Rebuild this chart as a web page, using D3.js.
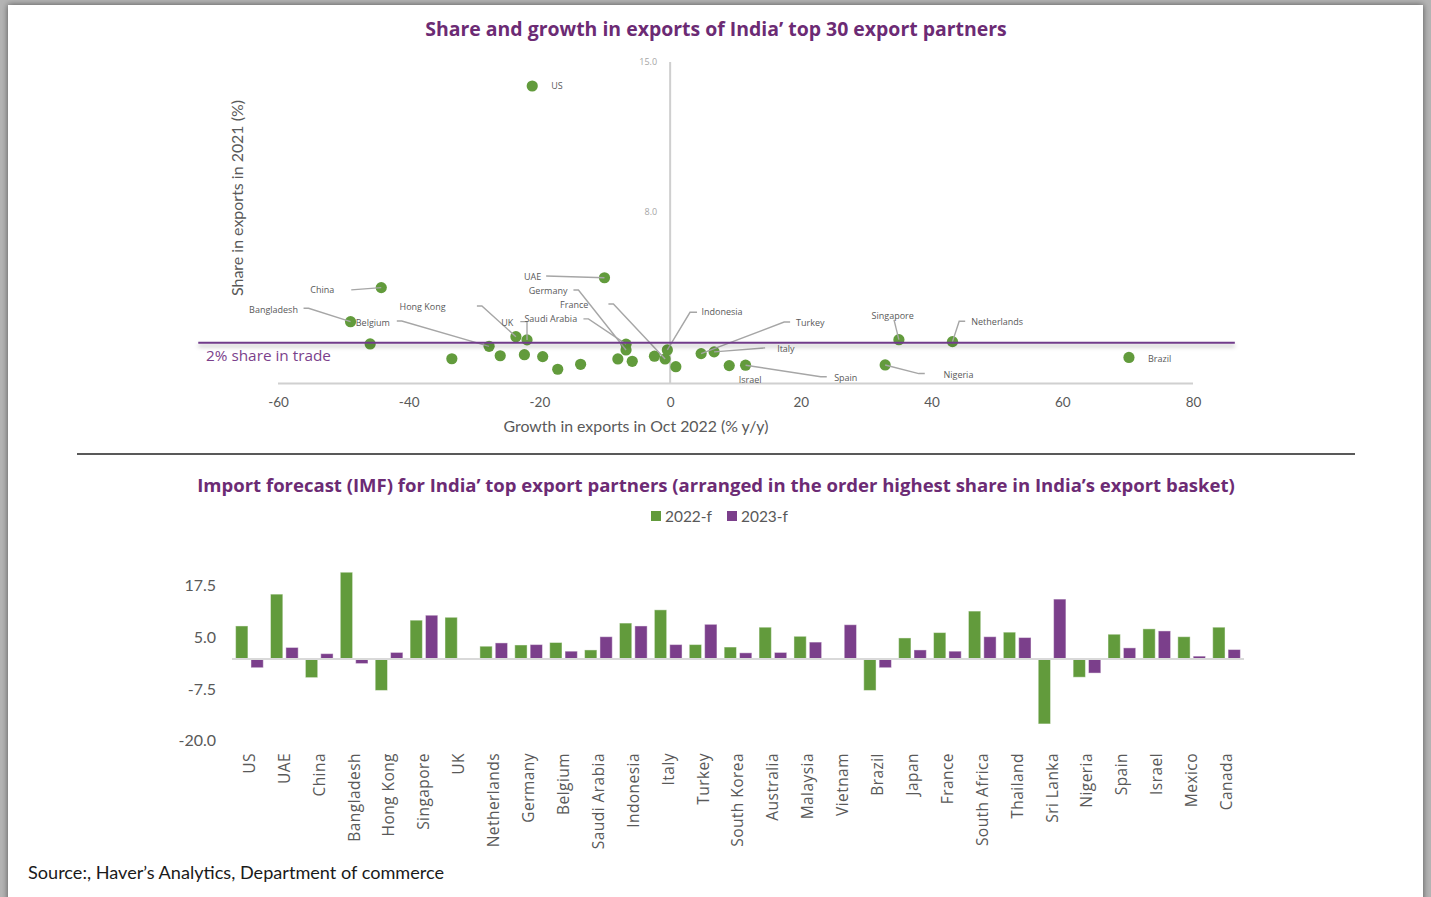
<!DOCTYPE html>
<html>
<head>
<meta charset="utf-8">
<script src="https://cdn.jsdelivr.net/npm/d3@7/dist/d3.min.js"></script>
<style>
  html, body { margin: 0; padding: 0; width: 1431px; height: 897px; overflow: hidden; background: #fff; }
  svg { display: block; }
</style>
</head>
<body>
<svg id="chart" width="1431" height="897"></svg>
<script>
// ---------------- DATA ----------------
// Scatter: share and growth of India's top 30 export partners
const scatterNames  = ["US","UAE","China","Bangladesh","","Belgium","Hong Kong","UK","Saudi Arabia","Germany",
                       "France","Indonesia","Turkey","Italy","Israel","Spain","Nigeria","Singapore","Netherlands","Brazil",
                       "","","","","","","","","",""];
const scatterGrowth = [-21.1,-10.05,-44.2,-48.9,-45.9,-27.7,-23.6,-21.9,-6.75,-6.75,
                       -0.77,-0.43,4.74,6.73,9.04,11.54,32.9,35.0,43.2,70.2,
                       -33.4,-26.0,-22.3,-19.5,-17.2,-13.7,-8.0,-5.8,-2.4,0.87];
const scatterShare  = [13.88,4.93,4.47,2.88,1.84,1.73,2.18,2.03,1.83,1.56,
                       1.14,1.56,1.39,1.47,0.83,0.85,0.86,2.04,1.95,1.21,
                       1.15,1.29,1.34,1.25,0.66,0.89,1.14,1.03,1.27,0.78];
const scatterXTicks = [-60,-40,-20,0,20,40,60,80];
const scatterYTicks = [8, 15];
const shareThreshold = 1.9;       // "2% share in trade" reference line
const thresholdSpan = [-72.2, 86.4];

// Bars: IMF import forecast
const categories = ["US","UAE","China","Bangladesh","Hong Kong","Singapore","UK","Netherlands","Germany","Belgium",
                    "Saudi Arabia","Indonesia","Italy","Turkey","South Korea","Australia","Malaysia","Vietnam","Brazil","Japan",
                    "France","South Africa","Thailand","Sri Lanka","Nigeria","Spain","Israel","Mexico","Canada"];
const forecast2022 = [8.0,15.7,-4.5,21.0,-7.6,9.4,10.1,3.1,3.4,4.0,
                      2.2,8.7,11.9,3.5,2.9,7.7,5.5,0,-7.6,5.1,
                      6.4,11.6,6.5,-15.7,-4.4,6.0,7.3,5.4,7.7];
const forecast2023 = [-2.1,2.8,1.3,-1.1,1.6,10.6,0,3.9,3.5,1.9,
                      5.4,8.0,3.5,8.4,1.5,1.6,4.1,8.3,-2.1,2.2,
                      1.9,5.4,5.2,14.5,-3.4,2.7,6.8,0.7,2.3];
const seriesNames = ["2022-f","2023-f"];
const barTicks = [-20, -7.5, 5, 17.5];

// ---------------- STYLE / LAYOUT ----------------
const GREEN = "#629b3c", PURPLE = "#7b3f8b", TITLE = "#6c2b74", TXT = "#595959";
const FONT = "Lato, 'Open Sans', sans-serif";
const TITLEFONT = "'Open Sans', Inter, sans-serif";
// label offsets in px relative to the point: [dx, dy, anchor, leaderDx, leaderDy, elbow]
const labelLayout = {
  "US":          [19, 0, "start", null],
  "UAE":         [-63.3, -1.7, "end", -58.3, -1.7, 0],
  "China":       [-47, 2.3, "end", -30, 2.3, 0],
  "Bangladesh":  [-52.6, -12, "end", -47, -13.4, 5],
  "Belgium":     [-133.3, -23.6, "start", -92.3, -25.3, 5],
  "Hong Kong":   [-116.4, -30, "start", -39, -30.7, 5],
  "UK":          [-25.7, -17.7, "start", -6.7, -18.3, 6.7],
  "Saudi Arabia":[-101.6, -25.3, "start", -42.6, -25.3, 5],
  "Germany":     [-97.2, -59, "start", -52.6, -60, 5],
  "France":      [-105, -54.3, "start", -56.7, -55, 5],
  "Indonesia":   [34.2, -38.1, "start", 29.7, -37.7, 7],
  "Turkey":      [95, -31.6, "start", 89, -31.6, 6],
  "Italy":       [63, -3.2, "start", 51, -4, 0],
  "Israel":      [20.9, 13.9, "middle", null],
  "Spain":       [88.6, 12.2, "start", 81.2, 11.6, 6],
  "Nigeria":     [58.3, 9.5, "start", 39.6, 8.6, 6],
  "Singapore":   [-6.2, -24.3, "middle", -4.9, -19.8, 0],
  "Netherlands": [18.8, -19.7, "start", 12.7, -20.3, 6],
  "Brazil":      [19, 0.7, "start", null]
};

const svg = d3.select("#chart");
const defs = svg.append("defs");
const fs = defs.append("filter").attr("id","frameShadow").attr("x","-5%").attr("y","-5%").attr("width","110%").attr("height","110%");
fs.append("feDropShadow").attr("dx",0).attr("dy",0).attr("stdDeviation",3).attr("flood-color","#000").attr("flood-opacity",0.55);
const ls = defs.append("filter").attr("id","lineShadow").attr("filterUnits","userSpaceOnUse")
  .attr("x",0).attr("y",0).attr("width",1431).attr("height",897);
ls.append("feDropShadow").attr("dx",0).attr("dy",3).attr("stdDeviation",2).attr("flood-color","#000").attr("flood-opacity",0.3);

// frame
svg.append("rect").attr("width",1431).attr("height",897).attr("fill","#b4b4b4");
svg.append("rect").attr("x",8).attr("y",5).attr("width",1415).attr("height",910).attr("fill","#fff").attr("filter","url(#frameShadow)");

function fitText(sel, target) {
  const node = sel.node();
  const w = node.getComputedTextLength();
  const f = parseFloat(sel.attr("font-size"));
  if (w > 0) sel.attr("font-size", (f * target / w).toFixed(2));
}
const plain = d => String(d);
const oneDec = d => d.toFixed(1);

// ---------------- SCATTER ----------------
const sx = d3.scaleLinear().domain([-60, 80]).range([278, 1193]);
const sy = d3.scaleLinear().domain([0, 15]).range([383.4, 62]);

const t1 = svg.append("text").attr("x",716).attr("y",28.5).attr("text-anchor","middle").attr("dominant-baseline","central")
  .attr("font-family",TITLEFONT).attr("font-weight",700).attr("font-size",17).attr("fill",TITLE)
  .text("Share and growth in exports of India\u2019 top 30 export partners");
fitText(t1, 582);

// axes lines
const gS = svg.append("g");
gS.append("line").attr("x1",sx(-60)).attr("x2",sx(80)).attr("y1",sy(0)).attr("y2",sy(0))
  .attr("stroke","#d0d0d0").attr("stroke-width",2);
gS.append("line").attr("x1",sx(0)).attr("x2",sx(0)).attr("y1",sy(15)).attr("y2",sy(0))
  .attr("stroke","#cfcfcf").attr("stroke-width",2);

// x ticks (axis generator, styled)
const xAxis = d3.axisBottom(sx).tickValues(scatterXTicks).tickSize(0).tickPadding(0).tickFormat(plain);
const gx = gS.append("g").attr("transform",`translate(0,${sy(0)+19})`).call(xAxis);
gx.select(".domain").remove();
gx.selectAll("text").attr("font-family",FONT).attr("font-size",13.5).attr("fill",TXT).attr("dy","0.35em");

// y ticks
const yAxis = d3.axisLeft(sy).tickValues(scatterYTicks).tickSize(0).tickFormat(oneDec);
const gy = gS.append("g").attr("transform",`translate(${sx(0)-10},0)`).call(yAxis);
gy.select(".domain").remove();
gy.selectAll("text").attr("font-family","'Open Sans', sans-serif").attr("font-size",9).attr("fill","#a6a6a6");

// axis titles
const xt = gS.append("text").attr("x",636).attr("y",425).attr("text-anchor","middle").attr("dominant-baseline","central")
  .attr("font-family",FONT).attr("font-size",15).attr("fill",TXT).text("Growth in exports in Oct 2022 (% y/y)");
fitText(xt, 265);
const yt = gS.append("text").attr("transform","translate(236,198) rotate(-90)").attr("text-anchor","middle").attr("dominant-baseline","central")
  .attr("font-family",FONT).attr("font-size",15).attr("fill",TXT).text("Share in exports in 2021 (%)");
fitText(yt, 196);

const pts = scatterNames.map((n,i)=>({name:n, x:scatterGrowth[i], y:scatterShare[i]}));
gS.append("g").selectAll("circle").data(pts).join("circle")
  .attr("cx",d=>sx(d.x)).attr("cy",d=>sy(d.y)).attr("r",5.6).attr("fill",GREEN);

// leader lines + labels
const labeled = pts.filter(d=>d.name && labelLayout[d.name]);
const lg = gS.append("g");
labeled.forEach(d=>{
  const L = labelLayout[d.name];
  const px = sx(d.x), py = sy(d.y);
  if (L[3] !== null && L[3] !== undefined) {
    const lx = px + L[3], ly = py + L[4];
    const dir = Math.sign(-L[3]) || 1;
    const path = d3.path();
    path.moveTo(lx, ly);
    path.lineTo(lx + dir*L[5], ly);
    path.lineTo(px, py);
    lg.append("path").attr("d",path.toString()).attr("fill","none").attr("stroke","#a6a6a6").attr("stroke-width",1.4);
  }
  lg.append("text").attr("x",px+L[0]).attr("y",py+L[1]).attr("text-anchor",L[2]).attr("dominant-baseline","central")
    .attr("font-family","'Open Sans', sans-serif").attr("font-size",9).attr("fill",TXT).text(d.name);
});

// threshold line
gS.append("line").attr("x1",sx(thresholdSpan[0])).attr("x2",sx(thresholdSpan[1])).attr("y1",sy(shareThreshold)).attr("y2",sy(shareThreshold))
  .attr("stroke","#703a8a").attr("stroke-width",2).attr("filter","url(#lineShadow)");
const th = gS.append("text").attr("x",206).attr("y",sy(shareThreshold)+12.5).attr("dominant-baseline","central")
  .attr("font-family","'Open Sans', sans-serif").attr("font-size",15).attr("fill","#7b3f8b").text("2% share in trade");
fitText(th, 125);

// separator
svg.append("line").attr("x1",77).attr("x2",1355).attr("y1",454).attr("y2",454).attr("stroke","#595959").attr("stroke-width",2);

// ---------------- BARS ----------------
const t2 = svg.append("text").attr("x",716).attr("y",484.5).attr("text-anchor","middle").attr("dominant-baseline","central")
  .attr("font-family",TITLEFONT).attr("font-weight",700).attr("font-size",16).attr("fill",TITLE)
  .text("Import forecast (IMF) for India\u2019 top export partners (arranged in the order highest share in India\u2019s export basket)");
fitText(t2, 1038);

// legend
const colors = [GREEN, PURPLE];
const legX = [651, 727];
seriesNames.forEach((s,i)=>{
  svg.append("rect").attr("x",legX[i]).attr("y",511).attr("width",10).attr("height",10).attr("fill",colors[i]);
  const lt = svg.append("text").attr("x",legX[i]+14).attr("y",516).attr("dominant-baseline","central")
    .attr("font-family",FONT).attr("font-size",16).attr("fill",TXT).text(s);
  fitText(lt, 47);
});

const bx = d3.scaleBand().domain(categories).range([232, 1244]).padding(0);
const bxi = d3.scaleBand().domain(seriesNames).range([0, bx.bandwidth()]).paddingInner(0.2).paddingOuter(0.235);
const by = d3.scaleLinear().domain([-20, 17.5]).range([741.7, 586.7]);

const barData = [];
categories.forEach((c,i)=>{
  [forecast2022[i], forecast2023[i]].forEach((v,j)=>{
    if (v !== 0) barData.push({cat:c, series:seriesNames[j], v, color:colors[j]});
  });
});
svg.append("g").selectAll("rect").data(barData).join("rect")
  .attr("x",d=>bx(d.cat)+bxi(d.series))
  .attr("width",bxi.bandwidth())
  .attr("y",d=>by(Math.max(0,d.v)))
  .attr("height",d=>Math.abs(by(d.v)-by(0)))
  .attr("fill",d=>d.color)
  .attr("stroke","rgba(255,255,255,0.45)").attr("stroke-width",1);

// baseline
svg.append("line").attr("x1",232).attr("x2",1244).attr("y1",by(0)).attr("y2",by(0)).attr("stroke","#d9d9d9").attr("stroke-width",2);

// y ticks
const byAxis = d3.axisLeft(by).tickValues(barTicks).tickSize(0).tickPadding(0).tickFormat(oneDec);
const gby = svg.append("g").attr("transform","translate(216,-1.5)").call(byAxis);
gby.select(".domain").remove();
gby.selectAll("text").attr("font-family",FONT).attr("font-size",16).attr("fill",TXT).attr("dy","0.35em");

// category labels
const bxAxis = d3.axisBottom(bx).tickSize(0);
const gbx = svg.append("g").attr("transform","translate(0,753)").call(bxAxis);
gbx.select(".domain").remove();
gbx.selectAll("text").attr("font-family","'Open Sans', sans-serif").attr("font-size",15.5).attr("fill",TXT)
  .attr("letter-spacing","0.45px")
  .attr("transform","rotate(-90)").attr("text-anchor","end").attr("x",0).attr("y",0).attr("dy","0.35em");

// source
const src = svg.append("text").attr("x",28).attr("y",872).attr("dominant-baseline","central")
  .attr("font-family",FONT).attr("font-size",16.5).attr("fill","#1a1a1a")
  .text("Source:, Haver\u2019s Analytics, Department of commerce");
fitText(src, 416);
</script>
</body>
</html>
